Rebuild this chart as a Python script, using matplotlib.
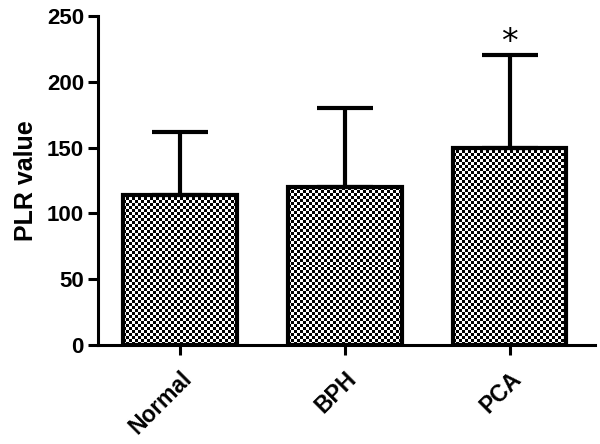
import numpy as np
import matplotlib
matplotlib.use("Agg")
import matplotlib.pyplot as plt
from matplotlib import font_manager as fm

categories = ["Normal", "BPH", "PCA"]
means = [114, 120, 150]
sd_upper = [48, 60, 70]
yticks = [0, 50, 100, 150, 200, 250]

# locate regular (non-narrow) Liberation Sans Bold
bold_path = None
for f in fm.findSystemFonts():
    if f.endswith("LiberationSans-Bold.ttf"):
        bold_path = f
        break

def bp(size):
    if bold_path:
        return fm.FontProperties(fname=bold_path, size=size)
    return fm.FontProperties(family='DejaVu Sans', weight='bold', size=size)

plt.rcParams['font.family'] = ['Liberation Sans', 'DejaVu Sans']

fig = plt.figure(figsize=(6, 4.44), dpi=100)
ax = fig.add_axes([0.163, 0.223, 0.829, 0.741])

x = np.arange(len(categories))
bars = ax.bar(x, means, width=0.69, facecolor='none', edgecolor='black',
              linewidth=3, zorder=3)
ax.errorbar(x, means, yerr=[np.zeros(len(means)), sd_upper], fmt='none',
            ecolor='black', elinewidth=3, capsize=20, capthick=3, zorder=2)

ax.set_xlim(-0.5, 2.52)
ax.set_ylim(0, 250)

# checkerboard texture inside bars
fig.canvas.draw()
trans = ax.transData
for b in bars:
    x0, y0 = b.get_x(), b.get_y()
    w, h = b.get_width(), b.get_height()
    p0 = trans.transform((x0, y0))
    p1 = trans.transform((x0 + w, y0 + h))
    nx = max(1, int(round((p1[0] - p0[0]) / 3)))
    ny = max(1, int(round((p1[1] - p0[1]) / 3)))
    board = (np.indices((ny, nx)).sum(axis=0) % 2).astype(float)
    im = ax.imshow(board, cmap='gray', vmin=0, vmax=1, interpolation='nearest',
                   extent=(x0, x0 + w, y0, y0 + h), aspect='auto', zorder=1)
    im.set_clip_path(b)

ax.set_xlim(-0.5, 2.52)
ax.set_ylim(0, 250)

ax.text(x[2], means[2] + sd_upper[2] + 10, "*", ha='center', va='center',
        fontsize=24, color='black', fontfamily='DejaVu Sans')

ax.spines['top'].set_visible(False)
ax.spines['right'].set_visible(False)
ax.spines['left'].set_linewidth(2.2)
ax.spines['bottom'].set_linewidth(2.2)

ax.set_yticks(yticks)
ax.set_yticklabels([str(v) for v in yticks], fontproperties=bp(16))
ax.set_xticks(x)
ax.set_xticklabels(categories, fontproperties=bp(16.5), rotation=45,
                   ha='right', rotation_mode='anchor')
ax.tick_params(axis='both', length=7, width=2.2, pad=3)
ax.tick_params(axis='x', pad=9)
ax.set_ylabel("PLR value", fontproperties=bp(18), labelpad=6)

fig.savefig("out.png", dpi=100)
